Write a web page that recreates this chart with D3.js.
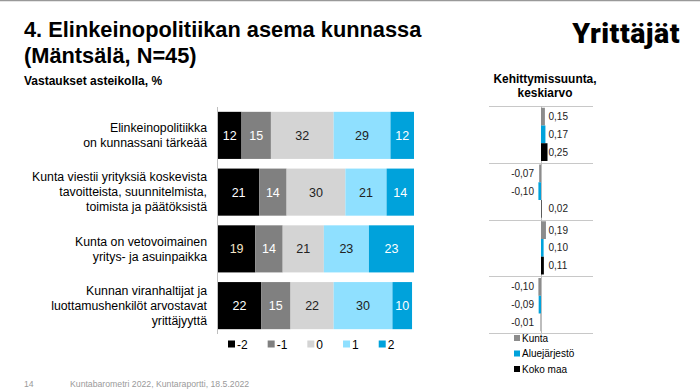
<!DOCTYPE html>
<html>
<head>
<meta charset="utf-8">
<script src="https://cdn.jsdelivr.net/npm/d3@7"></script>
<style>
  html, body { margin: 0; padding: 0; background: #fff; }
  svg { display: block; font-family: "Liberation Sans", Arial, sans-serif; }
</style>
</head>
<body>
<svg id="chart" width="700" height="392"></svg>
<script>
// ---- Data ----
const categories = [
  ["Elinkeinopolitiikka", "on kunnassani tärkeää"],
  ["Kunta viestii yrityksiä koskevista", "tavoitteista, suunnitelmista,", "toimista ja päätöksistä"],
  ["Kunta on vetovoimainen", "yritys- ja asuinpaikka"],
  ["Kunnan viranhaltijat ja", "luottamushenkilöt arvostavat", "yrittäjyyttä"]
];
const scaleLabels = ["-2", "-1", "0", "1", "2"];
const valuesMinus2 = [12, 21, 19, 22];
const valuesMinus1 = [15, 14, 14, 15];
const values0      = [32, 30, 21, 22];
const valuesPlus1  = [29, 21, 23, 30];
const valuesPlus2  = [12, 14, 23, 10];

const trendSeries = ["Kunta", "Aluejärjestö", "Koko maa"];
const trendKunta  = [0.15, -0.07, 0.19, -0.10];
const trendAlue   = [0.17, -0.10, 0.10, -0.09];
const trendKoko   = [0.25, 0.02, 0.11, -0.01];

// ---- Styles ----
const segColors = ["#000000", "#808080", "#d4d4d4", "#8fe0ff", "#00a2db"];
const segText   = ["#ffffff", "#ffffff", "#222222", "#222222", "#ffffff"];
const trendColors = ["#8c8c8c", "#00a2db", "#000000"];

const svg = d3.select("#chart");
const catIdx = categories.map((d, i) => i);
const series = [valuesMinus2, valuesMinus1, values0, valuesPlus1, valuesPlus2];

// top gray rule
svg.append("line").attr("x1", 0).attr("x2", 700).attr("y1", 0.5).attr("y2", 0.5)
  .attr("stroke", "#999").attr("stroke-width", 1.5);

// Titles
svg.append("text").attr("x", 24).attr("y", 37).attr("font-size", 21.8).attr("font-weight", "bold")
  .attr("fill", "#000").text("4. Elinkeinopolitiikan asema kunnassa");
svg.append("text").attr("x", 24).attr("y", 63).attr("font-size", 21.8).attr("font-weight", "bold")
  .attr("fill", "#000").text("(Mäntsälä, N=45)");
svg.append("text").attr("x", 24).attr("y", 85).attr("font-size", 12).attr("font-weight", "bold")
  .attr("fill", "#000").text("Vastaukset asteikolla, %");

// Logo
svg.append("text").attr("x", 680).attr("y", 43).attr("text-anchor", "end")
  .attr("font-family", "Roboto, 'Liberation Sans', sans-serif")
  .attr("font-size", 28.5).attr("font-weight", 900).attr("letter-spacing", 0.5)
  .attr("fill", "#000").text("Yrittäjät");

// ---- Main stacked bars ----
const x = d3.scaleLinear().domain([0, 100]).range([218, 414]);
const y = d3.scaleBand().domain(catIdx).range([107, 334]).paddingInner(0.17).paddingOuter(0.085);

// axis line
svg.append("line").attr("x1", 217.5).attr("x2", 217.5).attr("y1", 107).attr("y2", 334)
  .attr("stroke", "#bfbfbf").attr("stroke-width", 1);

const stacked = catIdx.map(i => {
  let acc = 0;
  return series.map((s, k) => {
    const v = s[i];
    const seg = { cat: i, k, v, x0: acc, x1: acc + v };
    acc += v;
    return seg;
  });
}).flat();

const g = svg.append("g");
g.selectAll("rect.seg").data(stacked).join("rect")
  .attr("class", "seg")
  .attr("x", d => x(d.x0))
  .attr("y", d => y(d.cat))
  .attr("width", d => x(d.x1) - x(d.x0))
  .attr("height", y.bandwidth())
  .attr("fill", d => segColors[d.k]);

g.selectAll("text.val").data(stacked).join("text")
  .attr("class", "val")
  .attr("x", d => (x(d.x0) + x(d.x1)) / 2)
  .attr("y", d => y(d.cat) + y.bandwidth() / 2 + 4.5)
  .attr("text-anchor", "middle")
  .attr("font-size", 12.5)
  .attr("fill", d => (d.k === 0 && d.cat === 2) ? "#f4e4c8" : segText[d.k])
  .text(d => d.v);

// category labels
categories.forEach((lines, i) => {
  const cy = y(i) + y.bandwidth() / 2;
  const lh = 15;
  const t = svg.append("text").attr("text-anchor", "end").attr("font-size", 12.3).attr("fill", "#000");
  lines.forEach((ln, j) => {
    t.append("tspan").attr("x", 207)
      .attr("y", cy + (j - (lines.length - 1) / 2) * lh + 4.3)
      .text(ln);
  });
});

// main legend
let lx = 228;
scaleLabels.forEach((lab, k) => {
  svg.append("rect").attr("x", lx).attr("y", 340.5).attr("width", 7).attr("height", 7).attr("fill", segColors[k]);
  const t = svg.append("text").attr("x", lx + 9).attr("y", 348.5).attr("font-size", 12).attr("fill", "#000").text(lab);
  lx += 9 + t.node().getComputedTextLength() + 20;
});

// ---- Trend panel ----
svg.append("text").attr("x", 545).attr("y", 83).attr("text-anchor", "middle")
  .attr("font-size", 11.9).attr("font-weight", "bold").text("Kehittymissuunta,");
svg.append("text").attr("x", 545).attr("y", 97).attr("text-anchor", "middle")
  .attr("font-size", 11.9).attr("font-weight", "bold").text("keskiarvo");

const xr = d3.scaleLinear().domain([-2, 2]).range([489, 593]);
const yr = d3.scaleBand().domain(catIdx).range([106, 333]).padding(0);
const yi = d3.scaleBand().domain([0, 1, 2]).range([0, yr.bandwidth()]).paddingInner(0).paddingOuter(0.1);

// separators
const sepYs = catIdx.map(i => yr(i)).concat([yr(catIdx.length - 1) + yr.bandwidth()]);
svg.selectAll("line.sep").data(sepYs).join("line").attr("class", "sep")
  .attr("x1", xr.range()[0]).attr("x2", xr.range()[1])
  .attr("y1", d => Math.round(d) + 0.5).attr("y2", d => Math.round(d) + 0.5)
  .attr("stroke", "#c8c8c8").attr("stroke-width", 1);

svg.append("line").attr("x1", xr(0) + 0.5).attr("x2", xr(0) + 0.5).attr("y1", 106).attr("y2", 333)
  .attr("stroke", "#bdbdbd").attr("stroke-width", 1);

const trendAll = [trendKunta, trendAlue, trendKoko];
const tdata = catIdx.map(i => trendAll.map((s, k) => ({ cat: i, k, v: s[i] }))).flat();

svg.selectAll("rect.tr").data(tdata).join("rect").attr("class", "tr")
  .attr("x", d => Math.min(xr(0), xr(d.v)))
  .attr("y", d => yr(d.cat) + yi(d.k))
  .attr("width", d => Math.abs(xr(d.v) - xr(0)))
  .attr("height", yi.bandwidth())
  .attr("fill", d => trendColors[d.k]);

const fmt = v => d3.format(".2f")(v).replace(".", ",").replace("−", "-");
svg.selectAll("text.trv").data(tdata).join("text").attr("class", "trv")
  .attr("x", d => d.v >= 0 ? xr(0) + 7.5 : xr(0) - 7)
  .attr("y", d => yr(d.cat) + yi(d.k) + yi.bandwidth() / 2 + 3.5)
  .attr("text-anchor", d => d.v >= 0 ? "start" : "end")
  .attr("font-size", 10).attr("fill", "#222")
  .text(d => fmt(d.v));

// trend legend
trendSeries.forEach((s, k) => {
  const cy = 338 + k * 15.5;
  svg.append("rect").attr("x", 514).attr("y", cy - 3).attr("width", 6).attr("height", 6).attr("fill", trendColors[k]);
  svg.append("text").attr("x", 522).attr("y", cy + 3.5).attr("font-size", 10).attr("fill", "#000").text(s);
});

// footer
svg.append("text").attr("x", 24).attr("y", 387).attr("font-size", 8.7).attr("fill", "#9a9a9a").text("14");
svg.append("text").attr("x", 70).attr("y", 387).attr("font-size", 8.7).attr("fill", "#9a9a9a")
  .text("Kuntabarometri 2022, Kuntaraportti, 18.5.2022");
</script>
</body>
</html>
